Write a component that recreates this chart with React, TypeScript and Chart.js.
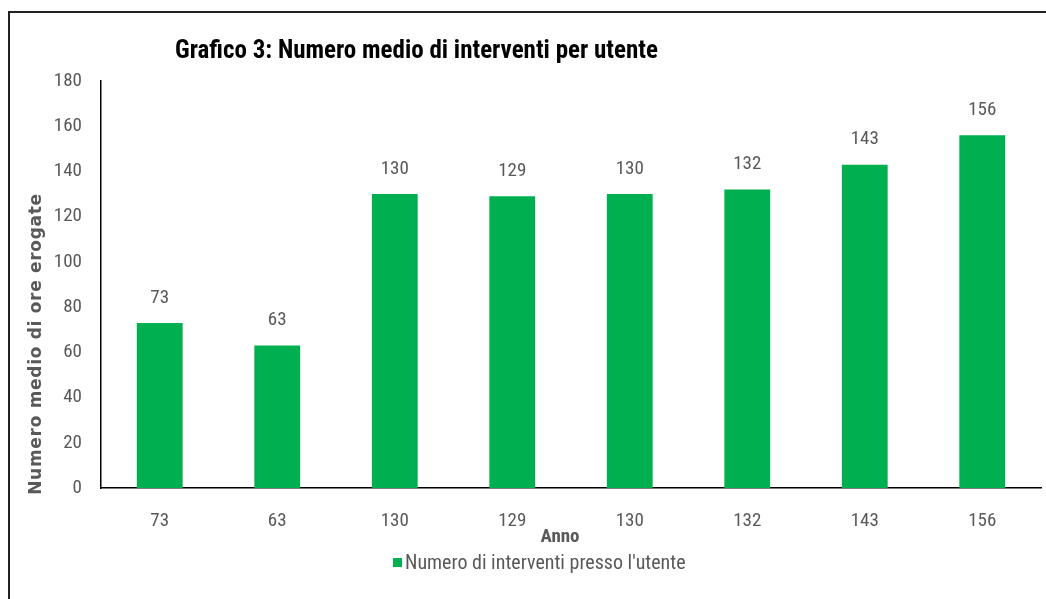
import React, { useEffect, useRef } from 'react';
import { Chart, registerables } from 'chart.js';

Chart.register(...registerables);

const categories = ['73', '63', '130', '129', '130', '132', '143', '156'];
const values = [73, 63, 130, 129, 130, 132, 143, 156];
const seriesName = "Numero di interventi presso l'utente";
const chartTitle = 'Grafico 3: Numero medio di interventi per utente';
const yAxisTitle = 'Numero medio di ore erogate';
const xAxisTitle = 'Anno';
const yMin = 0;
const yMax = 180;
const yStep = 20;

const GREEN = '#00B050';
const GRAY = '#595959';
const NARROW = '"Liberation Sans Narrow", "Arial Narrow", "Roboto Condensed", "Liberation Sans", sans-serif';

const decorPlugin = {
  id: 'decor',
  beforeDraw(chart: any) {
    const ctx = chart.ctx;
    ctx.save();
    ctx.fillStyle = '#ffffff';
    ctx.fillRect(0, 0, chart.width, chart.height);
    ctx.strokeStyle = '#222222';
    ctx.lineWidth = 2;
    ctx.beginPath();
    ctx.moveTo(9, chart.height + 2);
    ctx.lineTo(9, 12);
    ctx.lineTo(chart.width + 2, 12);
    ctx.stroke();
    ctx.restore();
  },
  afterDraw(chart: any) {
    const ctx = chart.ctx;
    ctx.save();
    // title
    ctx.fillStyle = '#000000';
    ctx.font = 'bold 25px ' + NARROW;
    ctx.textAlign = 'left';
    ctx.textBaseline = 'middle';
    ctx.fillText(chartTitle, 175, 52);

    // y axis title
    ctx.save();
    ctx.translate(37, 344);
    ctx.rotate(-Math.PI / 2);
    ctx.fillStyle = GRAY;
    ctx.font = 'bold 17px "DejaVu Sans", sans-serif';
    (ctx as any).letterSpacing = '0.7px';
    ctx.textAlign = 'center';
    ctx.textBaseline = 'middle';
    ctx.fillText(yAxisTitle, 0, 0);
    ctx.restore();

    // data labels
    const meta = chart.getDatasetMeta(0);
    ctx.fillStyle = GRAY;
    ctx.font = '19px ' + NARROW;
    ctx.textAlign = 'center';
    ctx.textBaseline = 'middle';
    meta.data.forEach((bar: any, i: number) => {
      ctx.fillText(String(values[i]), bar.x, bar.y - 25);
    });

    // x axis title
    ctx.fillStyle = GRAY;
    ctx.font = 'bold 19px ' + NARROW;
    ctx.fillText(xAxisTitle, 560, 537);

    // legend
    ctx.fillStyle = GREEN;
    ctx.fillRect(393, 558, 9, 9);
    ctx.fillStyle = GRAY;
    ctx.font = '20px ' + NARROW;
    ctx.textAlign = 'left';
    ctx.fillText(seriesName, 405, 564);
    ctx.restore();
  },
};

export default function App() {
  const canvasRef = useRef<HTMLCanvasElement | null>(null);

  useEffect(() => {
    if (!canvasRef.current) return;
    const chart = new Chart(canvasRef.current, {
      type: 'bar',
      data: {
        labels: categories,
        datasets: [
          {
            label: seriesName,
            data: values,
            backgroundColor: GREEN,
            borderWidth: 0,
            categoryPercentage: 1,
            barPercentage: 0.39,
          },
        ],
      },
      options: {
        animation: false,
        responsive: false,
        maintainAspectRatio: false,
        devicePixelRatio: 1,
        layout: { padding: { left: 0, right: 5, top: 81, bottom: 0 } },
        plugins: {
          legend: { display: false },
          title: { display: false },
          tooltip: { enabled: false },
        },
        scales: {
          x: {
            grid: { display: false, drawTicks: false },
            border: { display: true, color: '#000000', width: 1.5 },
            ticks: {
              color: GRAY,
              font: { family: NARROW, size: 19 },
              padding: 22,
              maxRotation: 0,
            },
            afterFit(scale: any) {
              scale.height = 111;
            },
          },
          y: {
            min: yMin,
            max: yMax,
            grid: { display: false, drawTicks: false },
            border: { display: true, color: '#000000', width: 1.5 },
            ticks: {
              stepSize: yStep,
              color: GRAY,
              font: { family: NARROW, size: 19 },
              padding: 19,
            },
            afterFit(scale: any) {
              scale.width = 101;
            },
          },
        },
      },
      plugins: [decorPlugin],
    });
    return () => chart.destroy();
  }, []);

  return (
    <div style={{ position: 'fixed', left: 0, top: 0, width: 1046, height: 599, background: '#fff' }}>
      <canvas ref={canvasRef} width={1046} height={599} style={{ width: 1046, height: 599, display: 'block' }} />
    </div>
  );
}
